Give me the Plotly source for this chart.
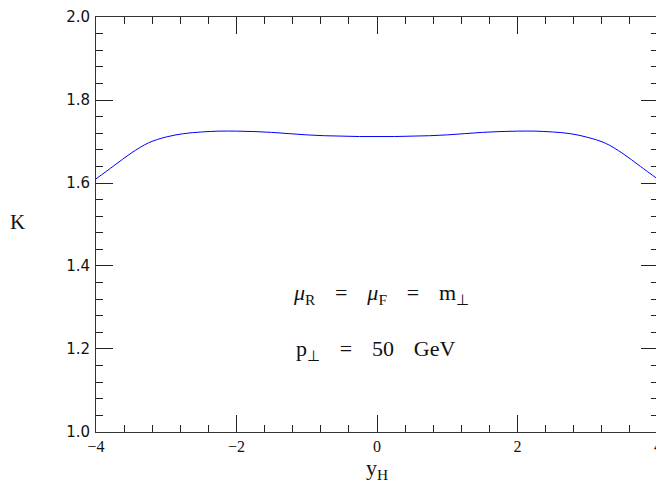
import plotly.graph_objects as go

# K factor vs Higgs rapidity
y_h = [-4.0, -3.75, -3.5, -3.25, -3.0, -2.75, -2.5, -2.25, -2.0, -1.75, -1.5, -1.25,
       -1.0, -0.75, -0.5, -0.25, 0.0, 0.25, 0.5, 0.75, 1.0, 1.25, 1.5, 1.75,
       2.0, 2.25, 2.5, 2.75, 3.0, 3.25, 3.5, 3.75, 4.0]
k_fac = [1.610, 1.641, 1.672, 1.697, 1.711, 1.719, 1.723, 1.725, 1.725, 1.724, 1.722, 1.719,
         1.716, 1.714, 1.713, 1.712, 1.712, 1.712, 1.713, 1.714, 1.716, 1.719, 1.722, 1.724,
         1.725, 1.725, 1.723, 1.719, 1.710, 1.696, 1.671, 1.640, 1.609]

x_ticks = [-4, -2, 0, 2, 4]
y_ticks = [1.0, 1.2, 1.4, 1.6, 1.8, 2.0]

serif = "Liberation Serif"
sans = "DejaVu Sans"
gap = "\u2002\u2009\u2009"  # wide spacing like the original

fig = go.Figure()
fig.add_scatter(x=y_h, y=k_fac, mode="lines", line=dict(color="#0000ff", width=1, shape="spline"),
                showlegend=False)

axis_common = dict(
    showgrid=False, zeroline=False, showline=True, linecolor="#333", linewidth=1,
    mirror="allticks", ticks="inside", ticklen=17, tickcolor="#222", tickwidth=1,
    ticklabeloverflow="allow", automargin=False,
)
fig.update_xaxes(range=[-4.0001, 4.0001], tickvals=x_ticks,
                 ticktext=[f"{v:g}".replace("-", "\u2212") for v in x_ticks],
                 tickfont=dict(family=serif, size=16, color="#111"),
                 minor=dict(dtick=0.4, ticks="inside", ticklen=7, tickcolor="#222"),
                 title=dict(text="y<sub>H</sub>", font=dict(family=serif, size=22, color="#111"), standoff=2),
                 **axis_common)
fig.update_yaxes(range=[0.9999, 2.0001], tickvals=y_ticks, ticktext=[f"{v:.1f}" for v in y_ticks],
                 tickfont=dict(family=sans, size=15, color="#111"), ticklabelstandoff=2,
                 minor=dict(dtick=0.04, ticks="inside", ticklen=7, tickcolor="#222"),
                 **axis_common)

# upright y-axis label
fig.add_annotation(x=-0.157, y=0.506, xref="paper", yref="paper", xanchor="left", showarrow=False,
                   text="K", font=dict(family=serif, size=21, color="#111"))

fig.add_annotation(x=0.05, y=1.333, xref="x", yref="y", showarrow=False,
                   text=f"<i>μ</i><sub>R</sub>{gap}={gap}<i>μ</i><sub>F</sub>{gap}={gap}m<sub>⊥</sub>",
                   font=dict(family=serif, size=22, color="#111"))
fig.add_annotation(x=-0.02, y=1.197, xref="x", yref="y", showarrow=False,
                   text=f"p<sub>⊥</sub>{gap}={gap}50{gap}GeV",
                   font=dict(family=serif, size=22, color="#111"))

fig.update_layout(
    width=656, height=478,
    margin=dict(l=88, r=6, t=9, b=54),
    plot_bgcolor="white", paper_bgcolor="white",
)
fig.write_html("out.html")
